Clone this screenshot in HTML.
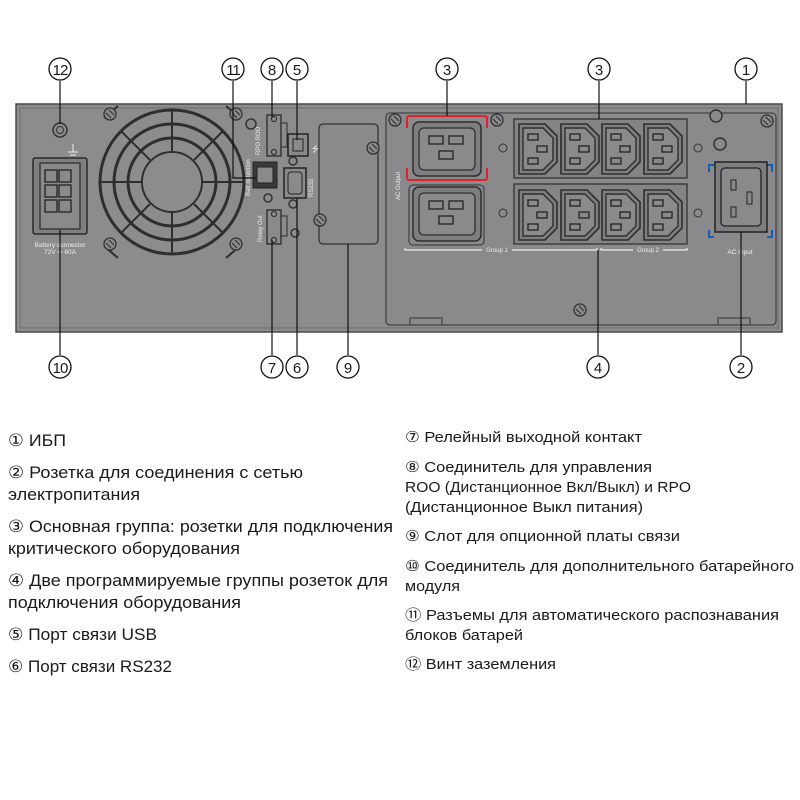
<!DOCTYPE html>
<html><head><meta charset="utf-8"><style>
html,body{margin:0;padding:0;background:#fff;}
svg{display:block;}
.t{font-family:"Liberation Sans","DejaVu Sans",sans-serif;fill:#1a1a1a;}
.c{font-family:"DejaVu Sans","Liberation Sans",sans-serif;fill:#111;font-size:17px;}
</style></head><body>
<svg width="800" height="800" viewBox="0 0 800 800" xmlns="http://www.w3.org/2000/svg">
<defs>
<g id="c13">
<path d="M2 2 H28 L40 14 V40 L28 52 H2 Z" fill="#7e7e80" stroke="#2e2e2e" stroke-width="1.6"/>
<path d="M6 6 H26 L36 16 V38 L26 48 H6 Z" fill="#8a8a8c" stroke="#2e2e2e" stroke-width="1.4"/>
<rect x="11" y="12" width="10" height="6" fill="none" stroke="#222" stroke-width="1.3"/>
<rect x="20" y="24" width="10" height="6" fill="none" stroke="#222" stroke-width="1.3"/>
<rect x="11" y="36" width="10" height="6" fill="none" stroke="#222" stroke-width="1.3"/>
</g>
<g id="c19">
<rect x="0" y="0" width="68" height="54" rx="6" fill="#7e7e80" stroke="#2e2e2e" stroke-width="1.5"/>
<rect x="6" y="6" width="56" height="42" rx="5" fill="#8a8a8c" stroke="#2e2e2e" stroke-width="1.3"/>
<rect x="16" y="14" width="14" height="8" fill="none" stroke="#222" stroke-width="1.3"/>
<rect x="36" y="14" width="14" height="8" fill="none" stroke="#222" stroke-width="1.3"/>
<rect x="26" y="29" width="14" height="8" fill="none" stroke="#222" stroke-width="1.3"/>
</g>
<g id="scr"><circle r="6" fill="#8a8a8c" stroke="#333" stroke-width="1.3"/><path d="M-4 -1 L1 4 M-1 -4 L4 1" stroke="#333" stroke-width="1.2"/></g>
</defs>

<!-- panel -->
<rect x="16" y="104" width="766" height="228" fill="#8c8c8e" stroke="#4a4a4a" stroke-width="1.5"/>
<rect x="20" y="108" width="758" height="220" fill="none" stroke="#6e6e70" stroke-width="1"/>
<rect x="386" y="113" width="390" height="212" rx="4" fill="#8a8a8c" stroke="#444" stroke-width="1.3"/>
<path d="M410 325 V318 H442 V325 M718 325 V318 H750 V325" fill="none" stroke="#444" stroke-width="1.2"/>
<use href="#scr" x="580" y="310"/>

<!-- ground screw -->
<circle cx="60" cy="130" r="7" fill="#8a8a8c" stroke="#333" stroke-width="1.5"/>
<circle cx="60" cy="130" r="3.5" fill="none" stroke="#333"/>
<path d="M73 144 V152 M68 152 H78 M70 155 H76" stroke="#eee" stroke-width="1"/>

<!-- battery connector -->
<rect x="33" y="158" width="54" height="76" rx="2" fill="#7e7e80" stroke="#2a2a2a" stroke-width="1.5"/>
<rect x="40" y="163" width="40" height="66" fill="#8a8a8c" stroke="#2a2a2a" stroke-width="1.2"/>
<g fill="none" stroke="#222" stroke-width="1.3">
<rect x="45" y="170" width="12" height="12"/><rect x="59" y="170" width="12" height="12"/>
<rect x="45" y="185" width="12" height="12"/><rect x="59" y="185" width="12" height="12"/>
<rect x="45" y="200" width="12" height="12"/><rect x="59" y="200" width="12" height="12"/>
</g>
<text x="60" y="247" class="t" font-size="6.5" fill="#eee" style="fill:#eee" text-anchor="middle">Battery connector</text>
<text x="60" y="254" class="t" font-size="6.5" style="fill:#eee" text-anchor="middle">72V ⎓ 60A</text>

<!-- fan -->
<g fill="none" stroke="#2e2e2e" stroke-width="3">
<circle cx="172" cy="182" r="72"/>
<circle cx="172" cy="182" r="58"/>
<circle cx="172" cy="182" r="44"/>
<circle cx="172" cy="182" r="30" stroke-width="2"/>
<path d="M172 110 V152 M172 212 V254 M100 182 H142 M202 182 H244" stroke-width="2"/>
<path d="M121 131 L150 160 M223 131 L194 160 M121 233 L150 204 M223 233 L194 204" stroke-width="2"/>
</g>
<circle cx="172" cy="182" r="29" fill="#8c8c8e"/>
<g fill="none" stroke="#2e2e2e" stroke-width="2">
<path d="M104 118 L118 106 M240 118 L226 106 M104 246 L118 258 M240 246 L226 258"/>
</g>
<use href="#scr" x="110" y="114"/><use href="#scr" x="236" y="114"/>
<use href="#scr" x="110" y="244"/><use href="#scr" x="236" y="244"/>

<!-- comm ports -->
<circle cx="251" cy="124" r="5" fill="#8a8a8c" stroke="#333" stroke-width="1.5"/>
<rect x="267" y="115" width="14" height="41" fill="#8a8a8c" stroke="#2a2a2a" stroke-width="1.3"/>
<rect x="281" y="123" width="6" height="24" fill="none" stroke="#2a2a2a"/>
<circle cx="274" cy="119" r="2.5" fill="none" stroke="#222"/><circle cx="274" cy="152" r="2.5" fill="none" stroke="#222"/>
<text transform="translate(260,155) rotate(-90)" class="t" font-size="6" style="fill:#eee">RPO ROO</text>
<rect x="288" y="134" width="20" height="22" fill="#8a8a8c" stroke="#222" stroke-width="1.5"/>
<rect x="293" y="139" width="10" height="12" fill="none" stroke="#222"/>
<text x="312" y="152" class="t" font-size="8" style="fill:#eee">⭍</text>
<rect x="253" y="162" width="24" height="26" fill="#3a3a3a" stroke="#222"/>
<rect x="257" y="167" width="16" height="16" fill="#8a8a8c" stroke="#222"/>
<text transform="translate(250,196) rotate(-90)" class="t" font-size="6" style="fill:#eee">Batt detection</text>
<circle cx="293" cy="161" r="4" fill="none" stroke="#333" stroke-width="1.5"/>
<path d="M284 168 H306 V198 H284 Z" fill="#8a8a8c" stroke="#222" stroke-width="1.5"/>
<rect x="288" y="172" width="14" height="22" rx="3" fill="none" stroke="#222"/>
<text transform="translate(313,197) rotate(-90)" class="t" font-size="6" style="fill:#eee">RS232</text>
<circle cx="293" cy="204" r="4" fill="none" stroke="#333" stroke-width="1.5"/>
<circle cx="268" cy="198" r="4" fill="none" stroke="#333" stroke-width="1.5"/>
<rect x="267" y="210" width="14" height="34" fill="#8a8a8c" stroke="#2a2a2a" stroke-width="1.3"/>
<rect x="281" y="216" width="6" height="20" fill="none" stroke="#2a2a2a"/>
<circle cx="274" cy="214" r="2.5" fill="none" stroke="#222"/><circle cx="274" cy="240" r="2.5" fill="none" stroke="#222"/>
<text transform="translate(262,242) rotate(-90)" class="t" font-size="6" style="fill:#eee">Relay Out</text>
<circle cx="295" cy="233" r="4" fill="none" stroke="#333" stroke-width="1.5"/>

<!-- option slot -->
<rect x="319" y="124" width="59" height="120" rx="4" fill="#8a8a8c" stroke="#333" stroke-width="1.3"/>
<use href="#scr" x="373" y="148"/><use href="#scr" x="320" y="220"/>

<!-- AC output C19 -->
<text transform="translate(400,200) rotate(-90)" class="t" font-size="6" style="fill:#eee">AC Output</text>
<use href="#c19" x="413" y="122"/>
<use href="#c19" x="413" y="187"/>
<rect x="409" y="185" width="75" height="60" rx="4" fill="none" stroke="#333"/>
<path d="M407 128 V118 Q407 116 410 116 H484 Q487 116 487 118 V128 M407 168 V178 Q407 180 410 180 H484 Q487 180 487 178 V168" fill="none" stroke="#e0202a" stroke-width="2"/>
<use href="#scr" x="395" y="120"/><use href="#scr" x="497" y="120"/>
<circle cx="503" cy="148" r="4" fill="none" stroke="#333"/><circle cx="503" cy="213" r="4" fill="none" stroke="#333"/>

<!-- C13 blocks -->
<rect x="514" y="119" width="173" height="59" fill="#848486" stroke="#333" stroke-width="1.3"/>
<rect x="514" y="184" width="173" height="60" fill="#848486" stroke="#333" stroke-width="1.3"/>
<use href="#c13" x="517" y="122"/><use href="#c13" x="559" y="122"/><use href="#c13" x="600" y="122"/><use href="#c13" x="642" y="122"/>
<use href="#c13" x="517" y="188"/><use href="#c13" x="559" y="188"/><use href="#c13" x="600" y="188"/><use href="#c13" x="642" y="188"/>
<circle cx="698" cy="148" r="4" fill="none" stroke="#333"/><circle cx="698" cy="213" r="4" fill="none" stroke="#333"/>
<path d="M405 248 V250 H482 M512 250 H597 V248 M601 248 V250 H633 M663 250 H687 V248" fill="none" stroke="#eee" stroke-width="1.2"/>
<text x="497" y="252" class="t" font-size="6" style="fill:#eee" text-anchor="middle">Group 1</text>
<text x="648" y="252" class="t" font-size="6" style="fill:#eee" text-anchor="middle">Group 2</text>

<!-- AC input -->
<circle cx="716" cy="116" r="6" fill="#8a8a8c" stroke="#333" stroke-width="1.5"/>
<use href="#scr" x="767" y="121"/>
<circle cx="720" cy="144" r="6" fill="#8a8a8c" stroke="#333" stroke-width="1.5"/>
<path d="M709 172 V165 H714 M709 230 V237 H714 M772 172 V165 H767 M772 230 V237 H767" fill="none" stroke="#1a5cb0" stroke-width="2"/>
<rect x="715" y="162" width="52" height="70" fill="#7e7e80" stroke="#222" stroke-width="1.5"/>
<rect x="721" y="168" width="40" height="58" rx="4" fill="#8a8a8c" stroke="#222" stroke-width="1.3"/>
<rect x="731" y="180" width="5" height="10" fill="none" stroke="#222"/>
<rect x="747" y="192" width="5" height="12" fill="none" stroke="#222"/>
<rect x="731" y="207" width="5" height="10" fill="none" stroke="#222"/>
<text x="740" y="254" class="t" font-size="6.5" style="fill:#eee" text-anchor="middle">AC Input</text>

<!-- leader lines -->
<g stroke="#111" stroke-width="1.2" fill="none">
<path d="M60 81 V124"/>
<path d="M233 81 V178 H256"/>
<path d="M272 81 V118"/>
<path d="M297 81 V140"/>
<path d="M447 81 V116"/>
<path d="M599 81 V119"/>
<path d="M746 81 V104"/>
<path d="M60 355 V230"/>
<path d="M272 355 V240"/>
<path d="M297 355 V198"/>
<path d="M348 355 V244"/>
<path d="M598 355 V250"/>
<path d="M741 355 V232"/>
</g>
<!-- callouts -->
<g fill="#fff" stroke="#111" stroke-width="1.3">
<circle cx="60" cy="69" r="11"/><circle cx="233" cy="69" r="11"/><circle cx="272" cy="69" r="11"/><circle cx="297" cy="69" r="11"/>
<circle cx="447" cy="69" r="11"/><circle cx="599" cy="69" r="11"/><circle cx="746" cy="69" r="11"/>
<circle cx="60" cy="367" r="11"/><circle cx="272" cy="367" r="11"/><circle cx="297" cy="367" r="11"/><circle cx="348" cy="367" r="11"/>
<circle cx="598" cy="367" r="11"/><circle cx="741" cy="367" r="11"/>
</g>
<g class="t" font-size="15" text-anchor="middle">
<text x="60" y="75" letter-spacing="-1">12</text><text x="233" y="75" letter-spacing="-1">11</text><text x="272" y="75">8</text><text x="297" y="75">5</text>
<text x="447" y="75">3</text><text x="599" y="75">3</text><text x="746" y="75">1</text>
<text x="60" y="373" letter-spacing="-1">10</text><text x="272" y="373">7</text><text x="297" y="373">6</text><text x="348" y="373">9</text>
<text x="598" y="373">4</text><text x="741" y="373">2</text>
</g>

<!-- legend left -->
<g class="t" font-size="17">
<text x="8" y="446" textLength="58" lengthAdjust="spacingAndGlyphs">① ИБП</text>
<text x="8" y="478" textLength="295" lengthAdjust="spacingAndGlyphs">② Розетка для соединения с сетью</text>
<text x="8" y="500" textLength="132" lengthAdjust="spacingAndGlyphs">электропитания</text>
<text x="8" y="532" textLength="385" lengthAdjust="spacingAndGlyphs">③ Основная группа: розетки для подключения</text>
<text x="8" y="554" textLength="232" lengthAdjust="spacingAndGlyphs">критического оборудования</text>
<text x="8" y="586" textLength="380" lengthAdjust="spacingAndGlyphs">④ Две программируемые группы розеток для</text>
<text x="8" y="608" textLength="233" lengthAdjust="spacingAndGlyphs">подключения оборудования</text>
<text x="8" y="640" textLength="149" lengthAdjust="spacingAndGlyphs">⑤ Порт связи USB</text>
<text x="8" y="672" textLength="164" lengthAdjust="spacingAndGlyphs">⑥ Порт связи RS232</text>
</g>
<!-- legend right -->
<g class="t" font-size="15">
<text x="405" y="442" textLength="237" lengthAdjust="spacingAndGlyphs">⑦ Релейный выходной контакт</text>
<text x="405" y="472" textLength="247" lengthAdjust="spacingAndGlyphs">⑧ Соединитель для управления</text>
<text x="405" y="492" textLength="286" lengthAdjust="spacingAndGlyphs">ROO (Дистанционное Вкл/Выкл) и RPO</text>
<text x="405" y="512" textLength="238" lengthAdjust="spacingAndGlyphs">(Дистанционное Выкл питания)</text>
<text x="405" y="541" textLength="275" lengthAdjust="spacingAndGlyphs">⑨ Слот для опционной платы связи</text>
<text x="405" y="571" textLength="389" lengthAdjust="spacingAndGlyphs">⑩ Соединитель для дополнительного батарейного</text>
<text x="405" y="591" textLength="55" lengthAdjust="spacingAndGlyphs">модуля</text>
<text x="405" y="620" textLength="374" lengthAdjust="spacingAndGlyphs">⑪ Разъемы для автоматического распознавания</text>
<text x="405" y="640" textLength="118" lengthAdjust="spacingAndGlyphs">блоков батарей</text>
<text x="405" y="669" textLength="151" lengthAdjust="spacingAndGlyphs">⑫ Винт заземления</text>
</g>
</svg>
</body></html>
